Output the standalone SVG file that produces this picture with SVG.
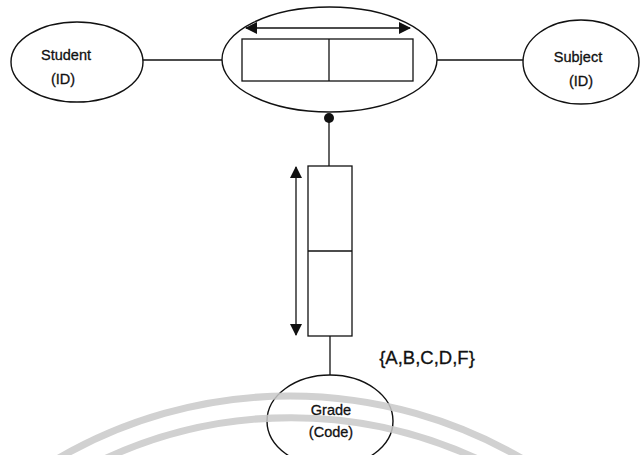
<svg xmlns="http://www.w3.org/2000/svg" width="640" height="455" viewBox="0 0 640 455">
  <style>
    .shape { fill: #ffffff; stroke: #111111; stroke-width: 1.4; }
    .box { fill: #ffffff; stroke: #111111; stroke-width: 1.3; }
    .line { fill: none; stroke: #111111; stroke-width: 1.3; }
    .label { font-family: "Liberation Sans", Arial, sans-serif; font-size: 14.5px; fill: #111111; stroke: #111111; stroke-width: 0.3; text-anchor: middle; }
    .band { fill: none; stroke: #c9c9c9; stroke-width: 7; }
  </style>
  <defs>
    <marker id="head" viewBox="0 0 12 12" refX="11" refY="6" markerWidth="12" markerHeight="12" markerUnits="userSpaceOnUse" orient="auto-start-reverse">
      <path d="M0,0 L12,6 L0,12 Z" fill="#111111"/>
    </marker>
  </defs>
  <rect x="0" y="0" width="640" height="455" fill="#ffffff"/>
  <g id="connectors">
    <line class="line" x1="143" y1="60" x2="242" y2="60"/>
    <line class="line" x1="413" y1="60" x2="523" y2="60"/>
    <line class="line" x1="329" y1="119" x2="329" y2="166"/>
    <circle cx="329" cy="118" r="5" fill="#111111"/>
    <line class="line" x1="330" y1="336" x2="330" y2="375"/>
  </g>
  <g id="student">
    <ellipse class="shape" cx="77" cy="62" rx="66" ry="40"/>
    <text class="label" x="66" y="60">Student</text>
    <text class="label" x="63" y="84">(ID)</text>
  </g>
  <g id="subject">
    <ellipse class="shape" cx="581" cy="62" rx="58" ry="42"/>
    <text class="label" x="578" y="62">Subject</text>
    <text class="label" x="581" y="86">(ID)</text>
  </g>
  <g id="enrolment">
    <ellipse class="shape" cx="329.5" cy="59.5" rx="107.5" ry="52.5"/>
    <rect class="box" x="242" y="39" width="171" height="42"/>
    <line class="line" x1="329" y1="39" x2="329" y2="81"/>
    <line class="line" x1="246" y1="28" x2="410" y2="28" marker-start="url(#head)" marker-end="url(#head)"/>
  </g>
  <g id="result">
    <rect class="box" x="308" y="166" width="44" height="170"/>
    <line class="line" x1="308" y1="251" x2="352" y2="251"/>
    <line class="line" x1="296" y1="167" x2="296" y2="335" marker-start="url(#head)" marker-end="url(#head)"/>
  </g>
  <g id="grade">
    <ellipse class="shape" cx="330" cy="421" rx="63" ry="46" style="fill:none"/>
    <text class="label" x="331" y="415">Grade</text>
    <text class="label" x="331" y="437">(Code)</text>
  </g>
  <g id="value-constraint">
    <text class="label" x="427" y="364" style="font-size:18.5px">{A,B,C,D,F}</text>
  </g>
  <g id="background-arcs" opacity="0.85">
    <path class="band" d="M 52 462 A 462 462 0 0 1 528 462"/>
    <path class="band" d="M 98 462 A 442 442 0 0 1 484 462"/>
  </g>
</svg>
